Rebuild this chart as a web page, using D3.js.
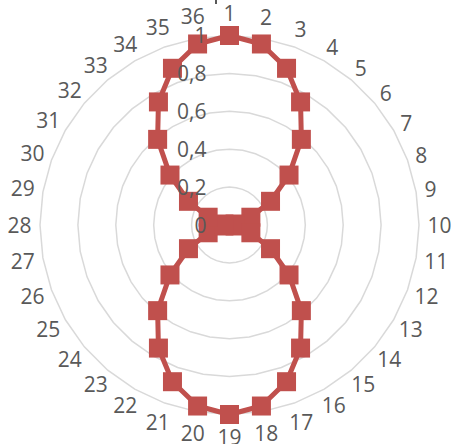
<!DOCTYPE html>
<html>
<head>
<meta charset="utf-8">
<script src="https://cdn.jsdelivr.net/npm/d3@7"></script>
<style>
  html, body { margin: 0; padding: 0; background: #fff; }
  text { font-family: "Open Sans", sans-serif; fill: #595959; }
</style>
</head>
<body>
<div id="chart"></div>
<script>
const width = 451;
const height = 444;

// categories 1..36 around the circle
const categories = ["1","2","3","4","5","6","7","8","9","10","11","12","13","14","15","16","17","18",
  "19","20","21","22","23","24","25","26","27","28","29","30","31","32","33","34","35","36"];

// values
const values = [1, 0.97, 0.88, 0.75, 0.59, 0.41, 0.25, 0.12, 0.03, 0, 0.03, 0.12, 0.25, 0.41, 0.59, 0.75, 0.88, 0.97,
  1, 0.97, 0.88, 0.75, 0.59, 0.41, 0.25, 0.12, 0.03, 0, 0.03, 0.12, 0.25, 0.41, 0.59, 0.75, 0.88, 0.97];

const ticks = [0, 0.2, 0.4, 0.6, 0.8, 1];
const tickLabels = ["0", "0,2", "0,4", "0,6", "0,8", "1"];

const cx = 229.5, cy = 225;
const R = 189.5;
const red = "#C0504D";

const svg = d3.select("#chart")
  .append("svg")
  .attr("width", width)
  .attr("height", height);

const g = svg.append("g").attr("transform", `translate(${cx},${cy})`);

const r = d3.scaleLinear().domain([0, 1]).range([0, R]);
const angle = d3.scaleBand().domain(categories).range([0, 2 * Math.PI]).align(0);
const ang = c => angle(c);

// gridlines (36-sided polygons)
ticks.filter(t => t > 0).forEach(t => {
  const line = d3.lineRadial()
    .angle(c => ang(c))
    .radius(r(t))
    .curve(d3.curveLinearClosed);
  g.append("path")
    .attr("d", line(categories))
    .attr("fill", "none")
    .attr("stroke", "#D9D9D9")
    .attr("stroke-width", 1.5);
});

// series line
const series = categories.map((c, i) => ({ c, v: values[i] }));

const radial = d3.lineRadial()
  .angle(d => ang(d.c))
  .radius(d => r(d.v))
  .curve(d3.curveLinearClosed);

g.append("path")
  .attr("d", radial(series))
  .attr("fill", "none")
  .attr("stroke", red)
  .attr("stroke-width", 5)
  .attr("stroke-linejoin", "round");

// markers
const ms = 19;
g.selectAll(".marker")
  .data(series)
  .enter()
  .append("rect")
  .attr("class", "marker")
  .attr("x", d => Math.sin(ang(d.c)) * r(d.v) - ms / 2)
  .attr("y", d => -Math.cos(ang(d.c)) * r(d.v) - ms / 2)
  .attr("width", ms)
  .attr("height", ms)
  .attr("fill", red);

// value axis labels (drawn over the series)
g.selectAll(".tick-label")
  .data(ticks)
  .enter()
  .append("text")
  .attr("class", "tick-label")
  .attr("x", -23)
  .attr("y", d => -r(d))
  .attr("dy", "0.36em")
  .attr("text-anchor", "end")
  .style("font-size", "21px")
  .text((d, i) => tickLabels[i]);

// category labels
const labels = g.selectAll(".cat")
  .data(categories)
  .enter()
  .append("text")
  .attr("class", "cat")
  .attr("text-anchor", "middle")
  .attr("dy", "0.36em")
  .style("font-size", "21px")
  .text(d => d);

labels.each(function (d) {
  const a = ang(d);
  const w = this.getComputedTextLength();
  const rr = 204 + Math.max(0, (w - 12) / 2) * Math.abs(Math.sin(a)) + 8 * Math.pow(Math.cos(a), 12);
  d3.select(this)
    .attr("x", Math.sin(a) * rr)
    .attr("y", -Math.cos(a) * rr);
});

// small clipped mark at the top edge
svg.append("rect")
  .attr("x", 215)
  .attr("y", 0)
  .attr("width", 2)
  .attr("height", 4)
  .attr("fill", "#595959");
</script>
</body>
</html>
